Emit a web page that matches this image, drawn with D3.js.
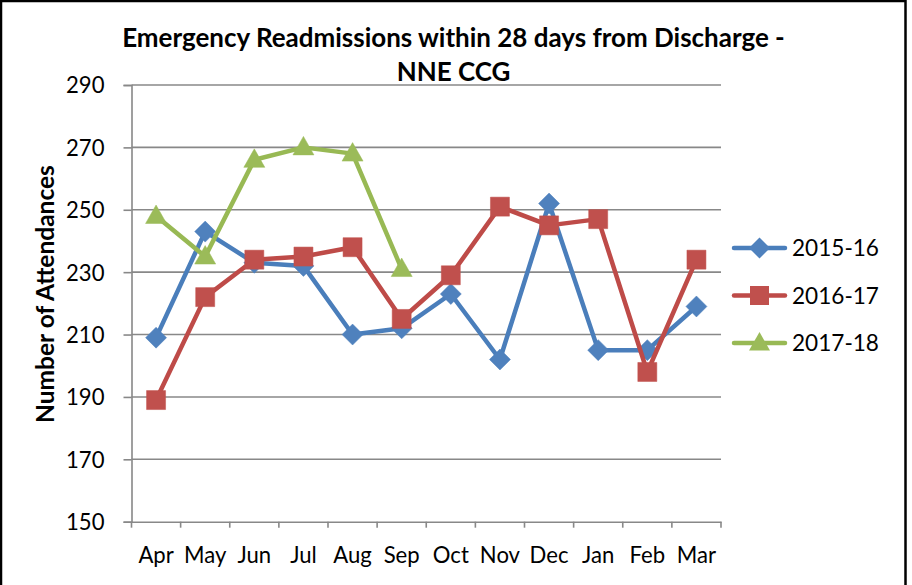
<!DOCTYPE html>
<html><head><meta charset="utf-8">
<script src="https://cdn.jsdelivr.net/npm/d3@7"></script>
<style>body{margin:0;background:#fff}svg{display:block}</style>
</head><body>
<svg id="c" width="912" height="585"></svg>
<script>
const categories = ["Apr","May","Jun","Jul","Aug","Sep","Oct","Nov","Dec","Jan","Feb","Mar"];
const seriesNames = ["2015-16","2016-17","2017-18"];
const values2015 = [209,243,233,232,210,212,223,202,252,205,205,219];
const values2016 = [189,222,234,235,238,215,229,251,245,247,198,234];
const values2017 = [248,235,266,270,268,231];
const yTicks = [150,170,190,210,230,250,270,290];
const colors = ["#4A7EBB","#BE4B48","#98B954"];
const markerFill = ["#4F81BD","#C0504D","#9BBB59"];
const shapes = ["diamond","square","triangle"];
const titleLines = ["Emergency Readmissions within 28 days from Discharge -","NNE CCG"];
const yTitle = "Number of Attendances";

const FONT = "Lato, 'Open Sans', sans-serif";
const svg = d3.select("#c");
svg.append("rect").attr("width",912).attr("height",585).attr("fill","#fff");
svg.append("rect").attr("x",1).attr("y",1).attr("width",904.5).attr("height",620)
  .attr("fill","none").attr("stroke","#000").attr("stroke-width",2.5);

const L=131.5, R=721, T=85, B=521.7;
const x = d3.scaleBand().domain(categories).range([L,R]).padding(0);
const y = d3.scaleLinear().domain([150,290]).range([B,T]);

function fit(sel, target){
  const w = sel.node().getComputedTextLength();
  const fs = parseFloat(sel.attr("font-size"));
  sel.attr("font-size", fs*target/w);
  return fs*target/w;
}

// gridlines
svg.append("g").selectAll("line").data(yTicks.filter(v=>v>150)).join("line")
  .attr("x1",L).attr("x2",R).attr("y1",d=>y(d)).attr("y2",d=>y(d))
  .attr("stroke","#888").attr("stroke-width",1.6);

// y axis
const yAxis = svg.append("g").attr("transform",`translate(${L},0)`)
  .call(d3.axisLeft(y).tickValues(yTicks).tickSize(8).tickPadding(19).tickFormat(d3.format("d")));
yAxis.select(".domain").attr("stroke","#888").attr("stroke-width",1.6);
yAxis.selectAll(".tick line").attr("stroke","#888").attr("stroke-width",1.6);
const yt = yAxis.selectAll(".tick text").attr("font-family",FONT).attr("font-size",20).attr("fill","#000").attr("dy","0.36em");
const tfs = fit(yAxis.select(".tick:last-of-type text"), 38.5);
yt.attr("font-size", tfs);

// x axis
const xAxis = svg.append("g").attr("transform",`translate(0,${B})`)
  .call(d3.axisBottom(x).tickSize(0).tickPadding(0));
xAxis.select(".domain").attr("stroke","#888").attr("stroke-width",1.6);
xAxis.selectAll(".tick text").attr("font-family",FONT).attr("font-size",tfs).attr("fill","#000")
  .attr("dy",null).attr("y",41.5);
const bounds = categories.map(c=>x(c)).concat([R]);
svg.append("g").selectAll("line").data(bounds).join("line")
  .attr("x1",d=>d).attr("x2",d=>d).attr("y1",B).attr("y2",B+6)
  .attr("stroke","#888").attr("stroke-width",1.6);

// title
const t1 = svg.append("text").attr("x",453.5).attr("y",47).attr("text-anchor","middle")
  .attr("font-family",FONT).attr("font-weight","bold").attr("font-size",20).text(titleLines[0]);
const ttfs = fit(t1, 663);
svg.append("text").attr("x",453.5).attr("y",80.5).attr("text-anchor","middle")
  .attr("font-family",FONT).attr("font-weight","bold").attr("font-size",ttfs).text(titleLines[1]);

// y title
const yl = svg.append("text").attr("transform","translate(54,294) rotate(-90)").attr("text-anchor","middle")
  .attr("font-family",FONT).attr("font-weight","bold").attr("font-size",20).text(yTitle);
fit(yl, 258);

function markerPath(shape){
  if(shape==="diamond") return "M0,-10.5L10.5,0L0,10.5L-10.5,0Z";
  if(shape==="square") return "M-9.5,-9.5H9.5V9.5H-9.5Z";
  return "M0,-11L10.5,7.5H-10.5Z";
}

const allSeries = [values2015, values2016, values2017];
const line = d3.line().x((d,i)=>x(categories[i])+x.bandwidth()/2).y(d=>y(d));
allSeries.forEach((vals,k)=>{
  const g = svg.append("g");
  g.append("path").attr("d",line(vals)).attr("fill","none").attr("stroke",colors[k])
    .attr("stroke-width",4.5).attr("stroke-linejoin","round").attr("stroke-linecap","round");
  g.selectAll("path.m").data(vals).join("path").attr("class","m")
    .attr("transform",(d,i)=>`translate(${x(categories[i])+x.bandwidth()/2},${y(d)})`)
    .attr("d",markerPath(shapes[k])).attr("fill",markerFill[k]).attr("stroke",markerFill[k]).attr("stroke-width",0.5);
});

// legend
const legY = [248,295.5,343];
seriesNames.forEach((n,k)=>{
  const g = svg.append("g").attr("transform",`translate(0,${legY[k]})`);
  g.append("line").attr("x1",734).attr("x2",785).attr("stroke",colors[k]).attr("stroke-width",4.5).attr("stroke-linecap","round");
  g.append("path").attr("transform","translate(759.5,0)").attr("d",markerPath(shapes[k])).attr("fill",markerFill[k]);
  const tx = g.append("text").attr("x",792).attr("y",0).attr("dy","0.36em")
    .attr("font-family",FONT).attr("font-size",20).attr("fill","#000").text(n);
  fit(tx, 87);
});
</script>
</body></html>
